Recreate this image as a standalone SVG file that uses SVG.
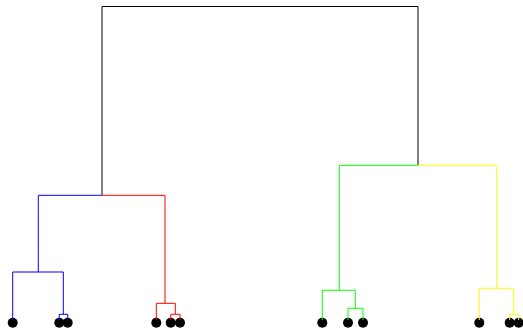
<svg xmlns="http://www.w3.org/2000/svg" width="523" height="329" viewBox="0 0 523 329">
<style>
.l{fill:none;stroke-width:1}
.k{stroke:#000}
.b{stroke:#00f}
.r{stroke:#f00}
.g{stroke:#0f0}
.y{stroke:#ff0}
.leaf{fill:#000}
</style>
<rect width="523" height="329" fill="#fff"/>
<g id="leaf1"><circle class="leaf" cx="12.7" cy="322.7" r="5"/></g>
<g id="leaf2"><circle class="leaf" cx="59.3" cy="322.7" r="5"/></g>
<g id="leaf3"><circle class="leaf" cx="67.7" cy="322.7" r="5"/></g>
<g id="leaf4"><circle class="leaf" cx="156.3" cy="322.7" r="5"/></g>
<g id="leaf5"><circle class="leaf" cx="170.7" cy="322.7" r="5"/></g>
<g id="leaf6"><circle class="leaf" cx="180" cy="322.7" r="5"/></g>
<g id="leaf7"><circle class="leaf" cx="322.3" cy="322.7" r="5"/></g>
<g id="leaf8"><circle class="leaf" cx="348" cy="322.7" r="5"/></g>
<g id="leaf9"><circle class="leaf" cx="363" cy="322.7" r="5"/></g>
<g id="leaf10"><circle class="leaf" cx="479.3" cy="322.7" r="5"/></g>
<g id="leaf11"><circle class="leaf" cx="509.7" cy="322.7" r="5"/></g>
<g id="leaf12"><circle class="leaf" cx="518.7" cy="322.7" r="5"/></g>
<g id="connectors">
<path class="l k" d="M102,195 V6.5 H260 M418,165 V6.5 H260"/>
<path class="l b" d="M102,195.3 H38.3 V272 M12.7,320 V272 H63.3 V314.3 M59.3,320 V314.3 H67.7 V320"/>
<path class="l r" d="M102,195.3 H165 V303.3 M156.3,320 V303.3 H175.3 V314.3 M170.7,320 V314.3 H180 V320"/>
<path class="l g" d="M418,165.3 H339.3 V290.3 M322.3,320 V290.3 H355.3 V308.3 M348,320 V308.3 H363 V320"/>
<path class="l y" d="M418,165.3 H496.7 V288.3 M479.3,320 V288.3 H513.7 V314.3 M509.7,320 V314.3 H518.7 V320"/>
</g>
</svg>
